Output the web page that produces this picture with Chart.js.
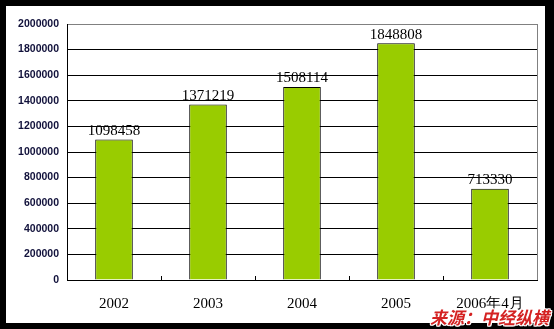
<!DOCTYPE html>
<html>
<head>
<meta charset="utf-8">
<script src="https://cdn.jsdelivr.net/npm/chart.js@4"></script>
<style>
  html, body { margin: 0; padding: 0; background: #000; }
  #frame { position: absolute; left: 6px; top: 6px; width: 539px; height: 317px; background: #fff; }
  #source {
    position: absolute; left: 430px; top: 307px;
    font-family: "Noto Sans CJK SC", sans-serif; font-size: 17px; font-weight: bold; font-style: italic;
    color: #d42222; line-height: 19px; white-space: nowrap;
    text-shadow: 1px 0 #fff, -1px 0 #fff, 0 1px #fff, 0 -1px #fff, 1px 1px #fff, -1px -1px #fff, 1px -1px #fff, -1px 1px #fff;
  }
</style>
</head>
<body>
<div id="frame"><canvas id="chart" width="539" height="317"></canvas></div>
<div id="source">来源：中经纵横</div>
<script>
const years = ['2002', '2003', '2004', '2005', '2006年4月'];
const totals = [1098458, 1371219, 1508114, 1848808, 713330];
const yMax = 2000000;
const yStep = 200000;

// value labels above each bar
const barLabels = {
    id: 'barLabels',
    afterDatasetsDraw(chart) {
        const ctx = chart.ctx;
        const meta = chart.getDatasetMeta(0);
        ctx.save();
        ctx.font = '15px "Liberation Serif", serif';
        ctx.fillStyle = '#000';
        ctx.textAlign = 'center';
        ctx.textBaseline = 'bottom';
        meta.data.forEach((bar, i) => {
            ctx.fillText(String(totals[i]), bar.x, bar.y - 1);
        });
        ctx.restore();
    }
};

// short ticks between categories, gray border on the right
const frameBits = {
    id: 'frameBits',
    afterDraw(chart) {
        const ctx = chart.ctx;
        const area = chart.chartArea;
        const x = chart.scales.x;
        ctx.save();
        ctx.strokeStyle = '#000';
        ctx.lineWidth = 1;
        ctx.beginPath();
        for (let i = 1; i < years.length; i++) {
            const px = Math.round((x.getPixelForTick(i - 1) + x.getPixelForTick(i)) / 2) + 0.5;
            ctx.moveTo(px, area.bottom);
            ctx.lineTo(px, area.bottom - 4);
        }
        ctx.stroke();
        ctx.strokeStyle = '#808080';
        ctx.beginPath();
        ctx.moveTo(Math.round(area.right) + 0.5, area.top);
        ctx.lineTo(Math.round(area.right) + 0.5, area.bottom);
        ctx.stroke();
        ctx.restore();
    }
};

new Chart(document.getElementById('chart'), {
    type: 'bar',
    data: {
        labels: years,
        datasets: [{
            data: totals,
            backgroundColor: '#99cc00',
            borderColor: '#000',
            borderWidth: 1,
            categoryPercentage: 1,
            barPercentage: 0.4
        }]
    },
    options: {
        responsive: false,
        animation: false,
        layout: { padding: { top: 18, right: 8, left: 0, bottom: 0 } },
        plugins: { legend: { display: false }, tooltip: { enabled: false } },
        scales: {
            x: {
                grid: { display: false },
                border: { color: '#000', width: 1 },
                ticks: {
                    color: '#000',
                    padding: 7,
                    font: { family: '"Liberation Serif", serif', size: 15 }
                },
                afterFit(scale) { scale.height = 43; }
            },
            y: {
                min: 0,
                max: yMax,
                grid: {
                    color: ctx => ctx.tick && ctx.tick.value === yMax ? '#808080' : '#000',
                    drawTicks: false
                },
                border: { color: '#000', width: 1 },
                ticks: {
                    stepSize: yStep,
                    color: '#10103a',
                    padding: 8,
                    callback: v => String(v),
                    font: { family: '"Liberation Sans", sans-serif', size: 10.5, weight: 'bold' }
                },
                afterFit(scale) { scale.width = 61; }
            }
        }
    },
    plugins: [barLabels, frameBits]
});
</script>
</body>
</html>
